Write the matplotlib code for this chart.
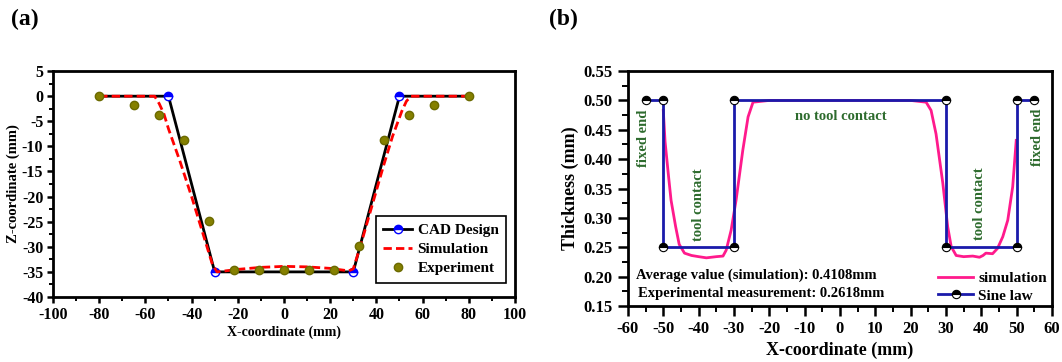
import matplotlib
matplotlib.use("Agg")
import matplotlib.pyplot as plt
import numpy as np

plt.rcParams['font.family'] = ['Liberation Serif', 'DejaVu Serif']
plt.rcParams['font.weight'] = 'bold'
plt.rcParams['axes.unicode_minus'] = False

# ---------------------------
# (a) profile data
# ---------------------------
cad_x = [-80, -50, -30, 30, 50, 80]
cad_z = [0, 0, -35, -35, 0, 0]

sim_x = [-80, -56, -54, -52, -50, -45, -40, -35, -31, -29, -20, -10, 0, 10, 20, 28,
         30, 33, 38, 43, 47, 51, 53, 55, 80]
sim_z = [0, 0, -1.5, -3.5, -6.5, -13, -20, -27.5, -33.5, -35, -34.5, -34.1, -33.9, -34.0,
         -34.3, -34.8, -34.4, -30, -22, -14, -8, -3, -1, 0, 0]

exp_x = [-80, -65, -54, -43.5, -32.5, -21.5, -10.8, 0, 10.8, 21.5, 32.3, 43.2, 54, 65, 80]
exp_z = [0, -1.8, -3.8, -8.8, -24.8, -34.7, -34.7, -34.7, -34.7, -34.7, -29.8, -8.8,
         -3.8, -1.8, 0]

# ---------------------------
# (b) thickness data
# ---------------------------
sine_x = [-55, -50, -50, -30, -30, 30, 30, 50, 50, 55]
sine_t = [0.50, 0.50, 0.25, 0.25, 0.50, 0.50, 0.25, 0.25, 0.50, 0.50]

thk_x = [-50, -49.5, -48.5, -47.8, -46.5, -45.5, -44, -42, -40, -37.8, -35, -33.1, -32.2,
         -30.8, -29.4, -27.5, -26, -24.6, -20, 0, 20, 24.4, 25.8, 27.2, 29.1, 30.5, 31.5,
         32.9, 35, 37.6, 39.5, 40.5, 41.3, 43.2, 44.6, 46.1, 47.5, 48.9, 49.9]
thk_t = [0.483, 0.43, 0.37, 0.33, 0.285, 0.255, 0.240, 0.236, 0.234, 0.232, 0.234, 0.235,
         0.245, 0.279, 0.33, 0.415, 0.472, 0.497, 0.500, 0.500, 0.500, 0.497, 0.483, 0.443,
         0.36, 0.285, 0.251, 0.236, 0.234, 0.235, 0.233, 0.236, 0.240, 0.239, 0.248, 0.268,
         0.296, 0.353, 0.432]

fig = plt.figure(figsize=(10.62, 3.62), dpi=100)

def style_axes(ax, size, major, minor, pad):
    for s in ax.spines.values():
        s.set_linewidth(2)
    ax.tick_params(which='major', direction='out', length=major, width=1.8, labelsize=size,
                   pad=pad, top=False, right=False)
    ax.tick_params(which='minor', direction='out', length=minor, width=1.4,
                   top=False, right=False)
    for lab in ax.get_xticklabels() + ax.get_yticklabels():
        lab.set_fontweight('bold')

# ---------------------------
# Subplot (a)
# ---------------------------
ax1 = fig.add_axes([0.0499, 0.1796, 0.435, 0.624])
ax1.plot(cad_x, cad_z, color='black', lw=2, marker='o', ms=6, markevery=[1, 2, 3, 4],
         mfc='blue', mfcalt='white', fillstyle='top', mec='blue', label='CAD Design', zorder=3)
ax1.plot(sim_x, sim_z, color='red', lw=2, ls='--', dashes=(3, 1.5), label='Simulation', zorder=4)
ax1.plot(exp_x, exp_z, ls='none', marker='o', ms=6, color='#858000', mec='#6b6a00',
         label='Experiment', zorder=5)
ax1.set_xlim(-100, 100)
ax1.set_ylim(-40, 5)
ax1.set_xticks(np.arange(-100, 101, 20))
ax1.set_xticks(np.arange(-100, 101, 10), minor=True)
ax1.set_yticks(np.arange(-40, 6, 5))
ax1.set_yticks(np.arange(-40, 6, 2.5), minor=True)
ax1.set_xlabel("X-coordinate (mm)", fontsize=10, fontweight='bold', labelpad=2)
ax1.set_ylabel("Z-coordinate (mm)", fontsize=10.5, fontweight='bold', labelpad=1)
style_axes(ax1, 11.5, 4.5, 3, 2.5)
leg1 = ax1.legend(loc='lower right', bbox_to_anchor=(0.981, 0.062), borderaxespad=0,
                  numpoints=1, prop={'weight': 'bold', 'size': 11}, fancybox=False,
                  framealpha=1, edgecolor='black', handlelength=1.9, handletextpad=0.35,
                  borderpad=0.5, labelspacing=0.35)
leg1.get_frame().set_linewidth(1.2)
fig.text(0.01, 0.93, "(a)", fontsize=17, fontweight='bold')

# ---------------------------
# Subplot (b)
# ---------------------------
ax2 = fig.add_axes([0.5913, 0.1547, 0.3992, 0.649])
ax2.plot(thk_x, thk_t, color='#ff1a8c', lw=2, label='simulation', zorder=3)
ax2.plot(sine_x, sine_t, color='#1a1aaa', lw=2, marker='o', ms=6, mfc='black',
         mfcalt='white', fillstyle='top', mec='black', mew=0.8, label='Sine law', zorder=4)
ax2.set_xlim(-60, 60)
ax2.set_ylim(0.15, 0.55)
ax2.set_xticks(np.arange(-60, 61, 10))
ax2.set_xticks(np.arange(-60, 61, 5), minor=True)
ax2.set_yticks(np.arange(0.15, 0.551, 0.05))
ax2.set_yticks(np.arange(0.15, 0.551, 0.025), minor=True)
ax2.yaxis.set_major_formatter(matplotlib.ticker.FormatStrFormatter('%.2f'))
ax2.set_xlabel("X-coordinate (mm)", fontsize=13, fontweight='bold', labelpad=3)
ax2.set_ylabel("Thickness (mm)", fontsize=13, fontweight='bold', labelpad=3)
style_axes(ax2, 12, 7, 4.5, 4)

green = '#2d6b2d'
ax2.text(0.2, 0.472, "no tool contact", color=green, fontsize=10.5, fontweight='bold',
         ha='center', va='center')
ax2.text(-55.6, 0.435, "fixed end", color=green, fontsize=10.5, fontweight='bold',
         ha='center', va='center', rotation=90)
ax2.text(55.8, 0.438, "fixed end", color=green, fontsize=10.5, fontweight='bold',
         ha='center', va='center', rotation=90)
ax2.text(-39.9, 0.322, "tool contact", color=green, fontsize=10.5, fontweight='bold',
         ha='center', va='center', rotation=90)
ax2.text(39.5, 0.325, "tool contact", color=green, fontsize=10.5, fontweight='bold',
         ha='center', va='center', rotation=90)
ax2.text(-57.6, 0.203, "Average value (simulation): 0.4108mm", fontsize=10.5,
         fontweight='bold', ha='left', va='center')
ax2.text(-57.2, 0.171, "Experimental measurement: 0.2618mm", fontsize=10.5,
         fontweight='bold', ha='left', va='center')
ax2.legend(loc='lower right', bbox_to_anchor=(1.02, -0.045), frameon=False, numpoints=1,
           prop={'weight': 'bold', 'size': 11}, handlelength=2.3, handletextpad=0.3,
           labelspacing=0.25)
fig.text(0.517, 0.93, "(b)", fontsize=17, fontweight='bold')

fig.savefig("out.png", dpi=100)
